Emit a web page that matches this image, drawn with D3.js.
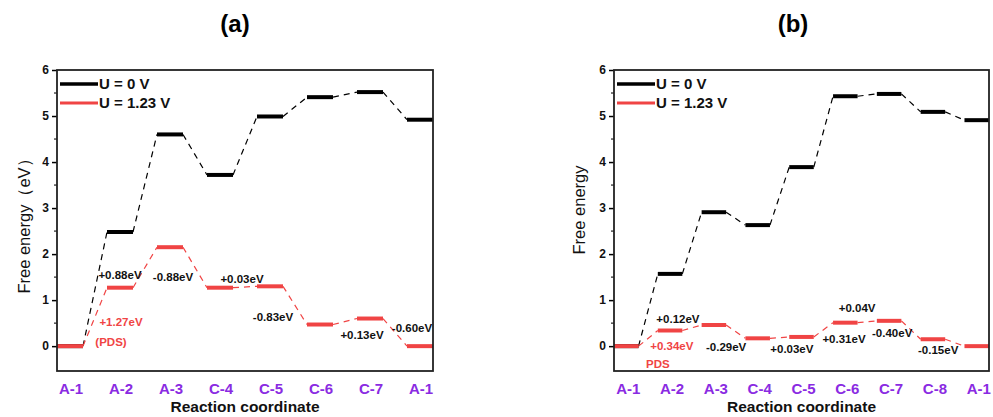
<!DOCTYPE html>
<html>
<head>
<meta charset="utf-8">
<script src="https://cdn.jsdelivr.net/npm/d3@7"></script>
<style>
  body { margin: 0; background: #fff; }
  svg { font-family: Arial, "Liberation Sans", sans-serif; }
</style>
</head>
<body>
<svg width="993" height="417"></svg>
<script>
// panel (a)
const catsA = ["A-1", "A-2", "A-3", "C-4", "C-5", "C-6", "C-7", "A-1"];
const u0A = [0, 2.48, 4.60, 3.72, 4.99, 5.41, 5.52, 4.92];
const u123A = [0, 1.27, 2.15, 1.27, 1.30, 0.47, 0.60, 0];
// label text, x (step index), y (eV), colour key
const notesA = [
  ["+0.88eV", 1.0, 1.54, "k"], ["-0.88eV", 2.06, 1.50, "k"], ["+0.03eV", 3.44, 1.46, "k"],
  ["-0.83eV", 4.06, 0.63, "k"], ["+0.13eV", 5.84, 0.24, "k"], ["-0.60eV", 6.84, 0.39, "k"],
  ["+1.27eV", 1.02, 0.52, "r"], ["(PDS)", 0.82, 0.09, "r"]
];

// panel (b)
const catsB = ["A-1", "A-2", "A-3", "C-4", "C-5", "C-6", "C-7", "C-8", "A-1"];
const u0B = [0, 1.57, 2.91, 2.63, 3.89, 5.43, 5.48, 5.09, 4.91];
const u123B = [0, 0.34, 0.46, 0.17, 0.20, 0.51, 0.55, 0.15, 0];
const notesB = [
  ["+0.12eV", 1.18, 0.59, "k"], ["-0.29eV", 2.28, -0.02, "k"], ["+0.03eV", 3.78, -0.07, "k"],
  ["+0.31eV", 4.97, 0.15, "k"], ["+0.04V", 5.27, 0.83, "k"], ["-0.40eV", 6.07, 0.28, "k"],
  ["-0.15eV", 7.12, -0.09, "k"], ["+0.34eV", 1.04, 0.0, "r"], ["PDS", 0.72, -0.39, "r"]
];

const yTicks = [0, 1, 2, 3, 4, 5, 6];
const legendLabels = ["U = 0 V", "U = 1.23 V"];

const RED = "#f04444";
const BLACK = "#000";
const PURPLE = "#8a2be2";

const svg = d3.select("svg");

function drawPanel(o) {
  const x = d3.scaleLinear().domain([-o.pad, o.cats.length - 1 + o.pad]).range([o.left, o.right]);
  const y = d3.scaleLinear().domain([-0.54, 6]).range([371, 70]);
  const hw = x(o.pad) - x(0);
  const g = svg.append("g");

  // title
  g.append("text")
    .attr("x", o.titleX).attr("y", 32)
    .attr("text-anchor", "middle")
    .attr("font-size", 24).attr("font-weight", "bold")
    .text(o.title);

  // y axis with minor ticks
  const yAxis = d3.axisLeft(y).tickValues(yTicks).tickSize(5).tickPadding(3).tickFormat(d3.format("d"));
  const ax = g.append("g").attr("transform", `translate(${o.left},0)`).call(yAxis);
  ax.select(".domain").remove();
  ax.selectAll("line").attr("stroke-width", 1.5);
  ax.selectAll("text").attr("font-size", 12).attr("font-weight", "bold").attr("fill", "#111");
  const minor = d3.range(0.5, 6, 1);
  g.append("g").selectAll("line").data(minor).enter().append("line")
    .attr("x1", o.left - 3).attr("x2", o.left)
    .attr("y1", d => y(d)).attr("y2", d => y(d))
    .attr("stroke", "#222").attr("stroke-width", 1.2);

  // series
  function series(vals, color, width) {
    const s = g.append("g");
    s.selectAll(".link").data(vals.slice(1)).enter().append("line")
      .attr("x1", (d, i) => x(i) + hw).attr("y1", (d, i) => y(vals[i]))
      .attr("x2", (d, i) => x(i + 1) - hw).attr("y2", d => y(d))
      .attr("stroke", color).attr("stroke-width", 1.2)
      .attr("stroke-dasharray", "6,5");
    s.selectAll(".lvl").data(vals).enter().append("line")
      .attr("x1", (d, i) => x(i) - hw).attr("x2", (d, i) => x(i) + hw)
      .attr("y1", d => y(d)).attr("y2", d => y(d))
      .attr("stroke", color).attr("stroke-width", width);
  }
  series(o.u0, BLACK, 4);
  series(o.u123, RED, 4);

  // frame
  g.append("rect")
    .attr("x", o.left).attr("y", 70)
    .attr("width", o.right - o.left).attr("height", 301)
    .attr("fill", "none").attr("stroke", "#222").attr("stroke-width", 1.8);

  // step annotations
  g.selectAll(".note").data(o.notes).enter().append("text")
    .attr("x", d => x(d[1])).attr("y", d => y(d[2]))
    .attr("dy", "0.35em")
    .attr("text-anchor", "middle")
    .attr("font-size", 11.5).attr("font-weight", "bold")
    .attr("fill", d => d[3] === "r" ? RED : "#111")
    .text(d => d[0]);

  // legend
  const lg = g.append("g");
  lg.selectAll("line").data(legendLabels).enter().append("line")
    .attr("x1", o.left + 3).attr("x2", o.left + 41)
    .attr("y1", (d, i) => 84 + i * 19).attr("y2", (d, i) => 84 + i * 19)
    .attr("stroke", (d, i) => i ? RED : BLACK)
    .attr("stroke-width", (d, i) => i ? 3 : 3.5);
  lg.selectAll("text").data(legendLabels).enter().append("text")
    .attr("x", o.left + 42).attr("y", (d, i) => 84 + i * 19)
    .attr("dy", "0.36em")
    .attr("font-size", 15).attr("font-weight", "bold").attr("fill", "#111")
    .text(d => d);

  // categories
  g.selectAll(".cat").data(o.cats).enter().append("text")
    .attr("x", (d, i) => x(i) + o.catShift).attr("y", 394)
    .attr("text-anchor", "middle")
    .attr("font-size", 15).attr("font-weight", "bold").attr("fill", PURPLE)
    .text(d => d);

  g.append("text")
    .attr("x", (o.left + o.right) / 2).attr("y", 412)
    .attr("text-anchor", "middle")
    .attr("font-size", 15.5).attr("font-weight", "bold").attr("fill", "#111")
    .text("Reaction coordinate");

  g.append("text")
    .attr("transform", `translate(${o.yTitleX},${o.yTitleY}) rotate(-90)`)
    .attr("text-anchor", "middle")
    .attr("dy", "0.35em")
    .attr("font-size", 16.5).attr("fill", "#111")
    .text(o.yTitle);
}

drawPanel({
  cats: catsA, u0: u0A, u123: u123A, notes: notesA,
  left: 57, right: 433, pad: 0.26, catShift: 1,
  title: "(a)", titleX: 235, yTitle: "Free energy（eV）", yTitleX: 24, yTitleY: 222
});
drawPanel({
  cats: catsB, u0: u0B, u123: u123B, notes: notesB,
  left: 614, right: 989, pad: 0.28, catShift: 2,
  title: "(b)", titleX: 793, yTitle: "Free energy", yTitleX: 579, yTitleY: 210
});
</script>
</body>
</html>
